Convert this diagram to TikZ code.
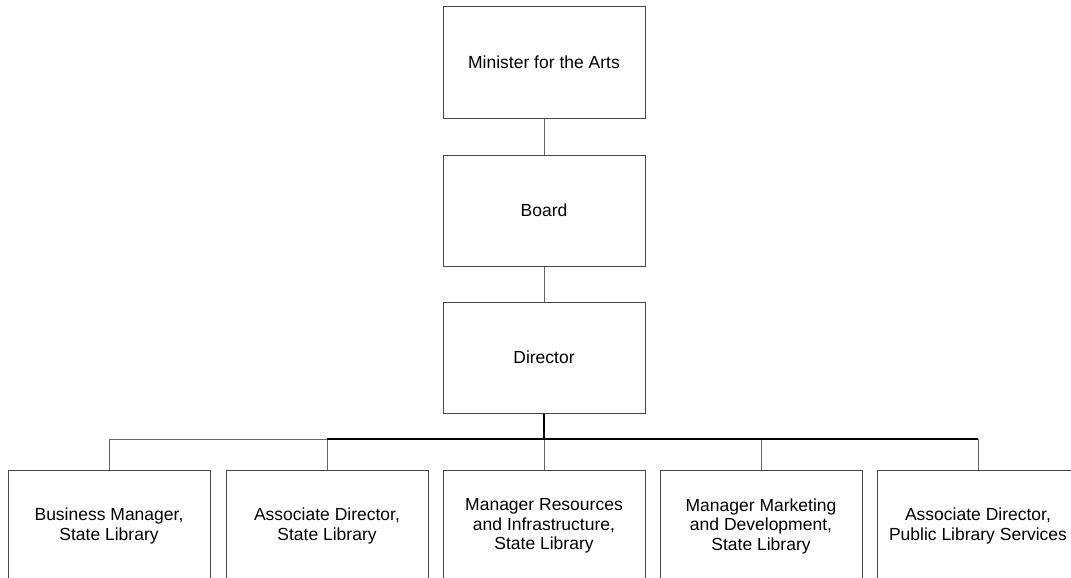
\documentclass[tikz,border=0pt]{standalone}
\usepackage{fontspec}
\setmainfont{Liberation Sans}
\begin{document}
\begin{tikzpicture}[x=1pt,y=-1pt,
  post/.style={draw=black!72, line width=1pt, rectangle, minimum width=202pt,
    minimum height=111pt, inner sep=0pt, align=center,
    font=\fontsize{17.5}{19.5}\selectfont},
  drop/.style={draw=black!60, line width=1pt},
  busline/.style={draw=black, line width=2pt}]
  \useasboundingbox (0,0) rectangle (1071,578);
  \clip (0,0) rectangle (1071,578);

  % chain of command
  \node[post] (minister) at (544,62.5) {Minister for the Arts};
  \node[post] (board)    at (544,210.5) {Board};
  \node[post] (director) at (544,357.5) {Director};

  % direct reports
  \node[post] (n1) at (109,526)  {Business Manager,\\State Library};
  \node[post] (n2) at (327,526)  {Associate Director,\\State Library};
  \node[post] (n3) at (544,526)  {Manager Resources\\and Infrastructure,\\State Library};
  \node[post] (n4) at (761,526)  {Manager Marketing\\and Development,\\State Library};
  \node[post] (n5) at (978,526)  {Associate Director,\\Public Library Services};

  \coordinate (bus) at (544,439);

  \draw[drop] (minister.south) -- (board.north);
  \draw[drop] (board.south) -- (director.north);

  % drops from the bus
  \draw[drop] (n1.north) -- (n1.north |- bus) -- (n2.north |- bus);
  \foreach \k in {2,3,4,5}
    \draw[drop] (n\k.north) -- (n\k.north |- bus);

  % main bus
  \draw[busline] (director.south) -- (bus);
  \draw[busline] (n2.north |- bus) -- (n5.north |- bus);
\end{tikzpicture}
\end{document}
